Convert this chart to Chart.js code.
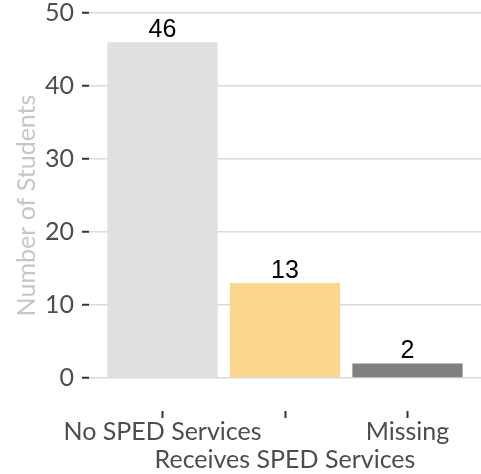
<!doctype html>
<html>
<head>
	<title>SPED Services Bar Chart</title>
	<script src="https://cdn.jsdelivr.net/npm/chart.js@4.4.1/dist/chart.umd.min.js"></script>
	<style>
	html, body { margin: 0; padding: 0; background: #fff; }
	#container { width: 481px; height: 474px; }
	</style>
</head>
<body>
	<div id="container">
		<canvas id="canvas"></canvas>
	</div>

	<script>
		// data
		var categories = ['No SPED Services', 'Receives SPED Services', 'Missing'];
		var students = [46, 13, 2];
		var barColors = ['#dfdfdf', '#fcd68c', '#808080'];
		var yTicks = [0, 10, 20, 30, 40, 50];

		var points = students.map(function(v, i) { return { x: i + 1, y: v }; });

		// value labels above bars
		var valueLabels = {
			id: 'valueLabels',
			afterDatasetsDraw: function(chart) {
				var ctx = chart.ctx;
				var meta = chart.getDatasetMeta(0);
				ctx.save();
				ctx.fillStyle = '#000';
				ctx.font = '25px "Liberation Sans", Arial, sans-serif';
				ctx.textAlign = 'center';
				ctx.textBaseline = 'alphabetic';
				meta.data.forEach(function(bar, i) {
					ctx.fillText(String(students[i]), bar.x, bar.y - 5);
				});
				ctx.restore();
			}
		};

		function noPad(scale) {
			scale.paddingTop = 0;
			scale.paddingBottom = 0;
			scale.paddingLeft = 0;
			scale.paddingRight = 0;
		}

		window.onload = function() {
			var ctx = document.getElementById('canvas').getContext('2d');
			window.myBar = new Chart(ctx, {
				type: 'bar',
				data: {
					datasets: [{
						data: points,
						backgroundColor: barColors,
						borderWidth: 0,
						barPercentage: 0.9,
						categoryPercentage: 1
					}]
				},
				plugins: [valueLabels],
				options: {
					responsive: true,
					maintainAspectRatio: false,
					devicePixelRatio: 1,
					animation: false,
					layout: { padding: 0 },
					plugins: {
						legend: { display: false },
						tooltip: { enabled: false }
					},
					scales: {
						x: {
							type: 'linear',
							min: 0.4,
							max: 3.6,
							offset: false,
							afterBuildTicks: function(scale) {
								scale.ticks = categories.map(function(c, i) { return { value: i + 1 }; });
							},
							afterFit: function(scale) { scale.height = 63; noPad(scale); },
							border: { display: false },
							grid: {
								offset: false,
								drawOnChartArea: false,
								tickLength: 7,
								tickColor: '#333333',
								tickWidth: 2
							},
							ticks: {
								color: '#4d4d4d',
								padding: 0,
								maxRotation: 0,
								autoSkip: false,
								font: { family: 'Lato', size: 25, lineHeight: 1.12 },
								callback: function(value) {
									var i = Math.round(value) - 1;
									// dodge the middle label onto a second row
									return i % 2 === 1 ? ['', categories[i]] : categories[i];
								}
							}
						},
						y: {
							min: -4.52,
							max: 51.78,
							afterBuildTicks: function(scale) {
								scale.ticks = yTicks.map(function(v) { return { value: v }; });
							},
							afterFit: function(scale) { scale.width = 89; noPad(scale); },
							border: { display: false },
							grid: {
								color: '#dadada',
								lineWidth: 1.5,
								tickLength: 7,
								tickColor: '#333333',
								tickWidth: 2
							},
							ticks: {
								color: '#4d4d4d',
								padding: 8,
								font: { family: 'Lato', size: 25 }
							},
							title: {
								display: true,
								text: 'Number of Students',
								color: '#c6c6c6',
								padding: { top: 12, bottom: 0 },
								font: { family: 'Lato', size: 25 }
							}
						}
					}
				}
			});
		};
	</script>
</body>
</html>
